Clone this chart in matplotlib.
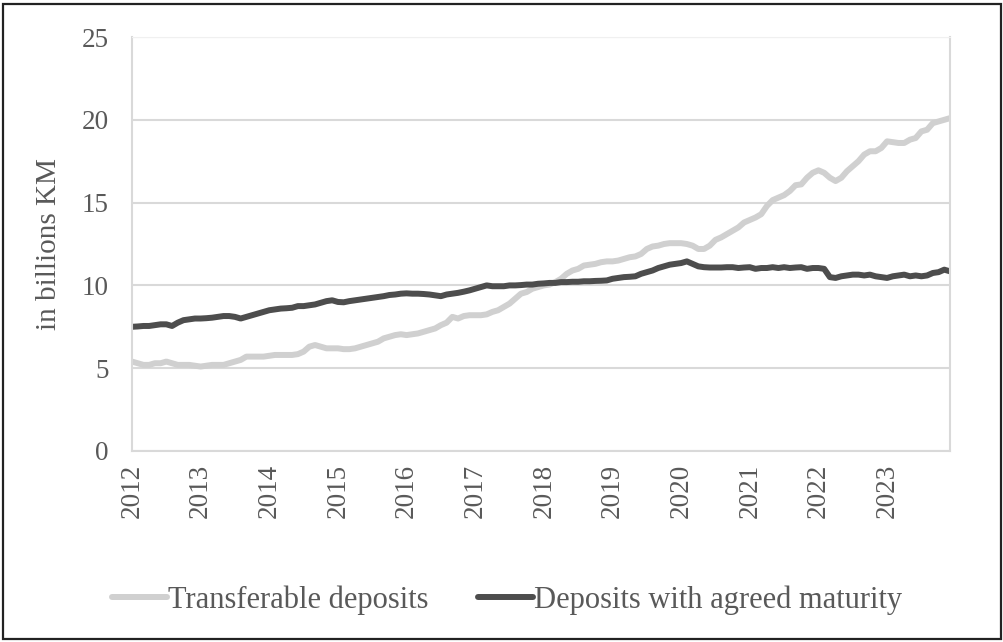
import numpy as np
import matplotlib.pyplot as plt
from matplotlib.patches import Rectangle

plt.rcParams['font.family'] = ['Liberation Serif', 'DejaVu Serif']

years = [str(y) for y in range(2012, 2024)]

# Transferable deposits, monthly, in billions KM
transferable = (
    [5.4, 5.3, 5.2, 5.2, 5.3, 5.3, 5.4, 5.3, 5.2, 5.2, 5.2, 5.15] +
    [5.1, 5.15, 5.2, 5.2, 5.2, 5.3, 5.4, 5.5, 5.7, 5.7, 5.7, 5.7] +
    [5.75, 5.8, 5.8, 5.8, 5.8, 5.85, 6.0, 6.3, 6.4, 6.3, 6.2, 6.2] +
    [6.2, 6.15, 6.15, 6.2, 6.3, 6.4, 6.5, 6.6, 6.8, 6.9, 7.0, 7.05] +
    [7.0, 7.05, 7.1, 7.2, 7.3, 7.4, 7.6, 7.75, 8.1, 8.0, 8.15, 8.2] +
    [8.2, 8.2, 8.25, 8.4, 8.5, 8.7, 8.9, 9.2, 9.5, 9.6, 9.8, 9.9] +
    [10.0, 10.05, 10.2, 10.4, 10.7, 10.9, 11.0, 11.2, 11.25, 11.3, 11.4, 11.45] +
    [11.45, 11.5, 11.6, 11.7, 11.75, 11.9, 12.2, 12.35, 12.4, 12.5, 12.55, 12.55] +
    [12.55, 12.5, 12.4, 12.2, 12.2, 12.4, 12.75, 12.9, 13.1, 13.3, 13.5, 13.8] +
    [13.95, 14.1, 14.3, 14.8, 15.15, 15.3, 15.45, 15.7, 16.05, 16.1, 16.5, 16.8] +
    [16.95, 16.8, 16.5, 16.3, 16.5, 16.9, 17.2, 17.5, 17.9, 18.1, 18.1, 18.3] +
    [18.7, 18.65, 18.6, 18.6, 18.8, 18.9, 19.3, 19.4, 19.8, 19.9, 20.0, 20.1]
)

# Deposits with agreed maturity
agreed = (
    [7.5, 7.52, 7.55, 7.55, 7.6, 7.65, 7.65, 7.55, 7.75, 7.9, 7.95, 8.0] +
    [8.0, 8.02, 8.05, 8.1, 8.15, 8.15, 8.1, 8.0, 8.1, 8.2, 8.3, 8.4] +
    [8.5, 8.55, 8.6, 8.62, 8.65, 8.75, 8.75, 8.8, 8.85, 8.95, 9.05, 9.1] +
    [9.0, 8.98, 9.05, 9.1, 9.15, 9.2, 9.25, 9.3, 9.35, 9.42, 9.45, 9.5] +
    [9.52, 9.5, 9.5, 9.48, 9.45, 9.4, 9.35, 9.45, 9.5, 9.55, 9.62, 9.7] +
    [9.8, 9.9, 10.0, 9.95, 9.95, 9.95, 10.0, 10.0, 10.02, 10.05, 10.05, 10.1] +
    [10.12, 10.15, 10.15, 10.2, 10.2, 10.22, 10.22, 10.25, 10.25, 10.27, 10.28, 10.3] +
    [10.4, 10.45, 10.5, 10.52, 10.55, 10.7, 10.8, 10.9, 11.05, 11.15, 11.25, 11.3] +
    [11.35, 11.45, 11.3, 11.15, 11.1, 11.08, 11.08, 11.08, 11.1, 11.1, 11.05, 11.08] +
    [11.1, 11.0, 11.05, 11.05, 11.1, 11.05, 11.1, 11.05, 11.08, 11.1, 11.0, 11.05] +
    [11.05, 11.0, 10.5, 10.45, 10.55, 10.6, 10.65, 10.65, 10.6, 10.65, 10.55, 10.5] +
    [10.45, 10.55, 10.6, 10.65, 10.55, 10.6, 10.55, 10.6, 10.75, 10.8, 10.95, 10.85]
)

months = np.arange(len(transferable))
text_col = '#595959'
grid_col = '#d9d9d9'

fig = plt.figure(figsize=(10.04, 6.42), dpi=100)
ax = fig.add_axes([132/1004, 1-451/642, (950-132)/1004, (451-37)/642])

ax.plot(months, transferable, color='#d0d0d0', lw=4.3, solid_capstyle='round',
        label='Transferable deposits')
ax.plot(months, agreed, color='#4d4d4d', lw=4.3, solid_capstyle='round',
        label='Deposits with agreed maturity')

ax.set_xlim(0, len(months) - 1)
ax.set_ylim(0, 25)
ax.set_yticks([0, 5, 10, 15, 20, 25])
ax.set_xticks(months[::12])
ax.set_xticklabels(years, rotation=90)
ax.tick_params(axis='both', length=0, labelsize=19.5, labelcolor=text_col)
ax.tick_params(axis='y', pad=17)
ax.tick_params(axis='x', pad=9)
ax.grid(axis='y', color=grid_col, lw=1.5)
ax.set_axisbelow(True)
for s in ['left', 'bottom', 'right']:
    ax.spines[s].set_color(grid_col)
    ax.spines[s].set_linewidth(1.5)
ax.spines['top'].set_color('#f0f0f0')

ax.set_ylabel('in billions KM', fontsize=21, color=text_col, labelpad=14)

fig.legend(loc='center', bbox_to_anchor=(0.505, 1-600/642), ncol=2, frameon=False,
           fontsize=22, labelcolor=text_col, handlelength=1.8, handletextpad=0.05,
           columnspacing=1.6)

fig.patches.append(Rectangle((3/1004, 3/642), 998/1004, 635/642, transform=fig.transFigure,
                             fill=False, edgecolor='#222222', lw=1.6))

fig.savefig('out.png', dpi=100)
